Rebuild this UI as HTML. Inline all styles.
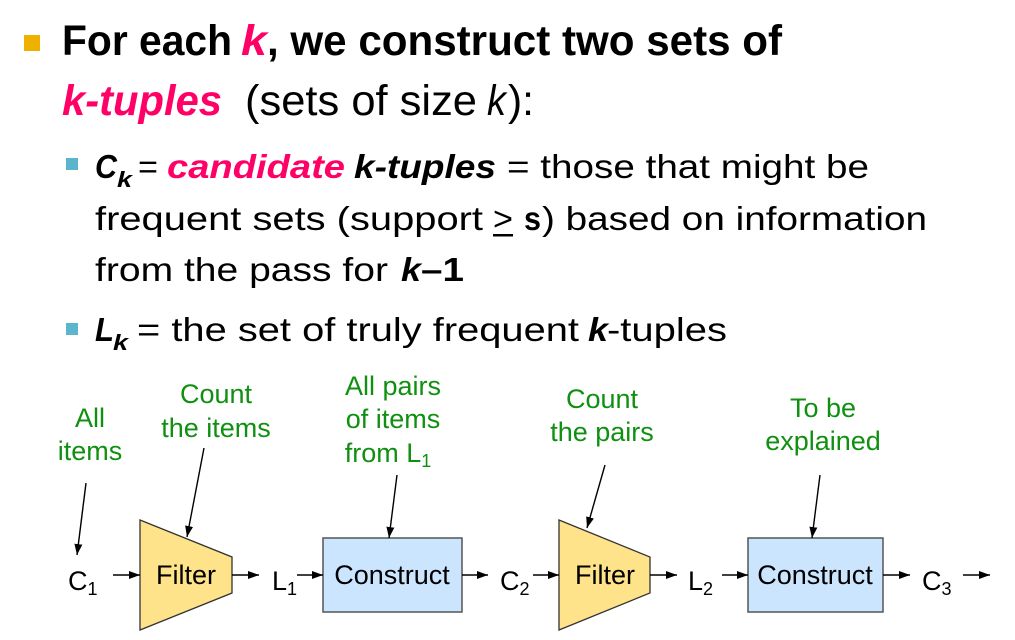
<!DOCTYPE html>
<html>
<head>
<meta charset="utf-8">
<style>
html,body{margin:0;padding:0;background:#fff;}
svg{display:block;}
text{font-family:"Liberation Sans",Arial,sans-serif;}
</style>
</head>
<body>
<svg width="1015" height="640" viewBox="0 0 1015 640" xmlns="http://www.w3.org/2000/svg">
<defs>
<marker id="ah" markerWidth="12" markerHeight="9" refX="11" refY="4" orient="auto" markerUnits="userSpaceOnUse">
<path d="M0,0 L11,4 L0,8 z" fill="#000"/>
</marker>
</defs>

<!-- Bullet 1 -->
<rect x="24" y="35" width="16" height="16" fill="#f0b000"/>
<g font-size="43" font-weight="bold">
<text x="62" y="55" textLength="170" lengthAdjust="spacingAndGlyphs" fill="#000">For each</text>
<text x="241" y="55" textLength="26" lengthAdjust="spacingAndGlyphs" fill="#ff0066" font-style="italic">k</text>
<text x="267" y="55" textLength="515" lengthAdjust="spacingAndGlyphs" fill="#000">, we construct two sets of</text>
<text x="62" y="115" textLength="160" lengthAdjust="spacingAndGlyphs" fill="#ff0066" font-style="italic">k-tuples</text>
</g>
<g font-size="43">
<text x="245" y="115" textLength="232" lengthAdjust="spacingAndGlyphs" fill="#000">(sets of size</text>
<text x="487" y="115" textLength="19" lengthAdjust="spacingAndGlyphs" fill="#000" font-style="italic">k</text>
<text x="508" y="115" textLength="26" lengthAdjust="spacingAndGlyphs" fill="#000">):</text>
</g>

<!-- Sub bullet 1 -->
<rect x="66" y="158" width="12" height="12" fill="#5bb5cc"/>
<g font-size="33">
<text x="95" y="178" textLength="22" lengthAdjust="spacingAndGlyphs" font-weight="bold" font-style="italic">C</text>
<text x="117" y="187" font-size="22" textLength="15" lengthAdjust="spacingAndGlyphs" font-weight="bold" font-style="italic">k</text>
<text x="138" y="178" textLength="20" lengthAdjust="spacingAndGlyphs">=</text>
<text x="167" y="178" textLength="178" lengthAdjust="spacingAndGlyphs" font-weight="bold" font-style="italic" fill="#ff0066">candidate</text>
<text x="354" y="178" textLength="142" lengthAdjust="spacingAndGlyphs" font-weight="bold" font-style="italic">k-tuples</text>
<text x="507" y="178" textLength="362" lengthAdjust="spacingAndGlyphs">= those that might be</text>

<text x="95" y="230" textLength="388" lengthAdjust="spacingAndGlyphs">frequent sets (support</text>
<text x="493" y="230" textLength="20" lengthAdjust="spacingAndGlyphs">&gt;</text>
<rect x="493" y="234" width="20" height="2.5" fill="#000"/>
<text x="524" y="230" textLength="17" lengthAdjust="spacingAndGlyphs" font-weight="bold">s</text>
<text x="542" y="230" textLength="385" lengthAdjust="spacingAndGlyphs">) based on information</text>

<text x="95" y="281" textLength="293" lengthAdjust="spacingAndGlyphs">from the pass for</text>
<text x="401" y="281" textLength="20" lengthAdjust="spacingAndGlyphs" font-weight="bold" font-style="italic">k</text>
<text x="421" y="281" textLength="43" lengthAdjust="spacingAndGlyphs" font-weight="bold">–1</text>
</g>

<!-- Sub bullet 2 -->
<rect x="66" y="323" width="12" height="12" fill="#5bb5cc"/>
<g font-size="33">
<text x="95" y="341" textLength="19" lengthAdjust="spacingAndGlyphs" font-weight="bold" font-style="italic">L</text>
<text x="113" y="350" font-size="22" textLength="15" lengthAdjust="spacingAndGlyphs" font-weight="bold" font-style="italic">k</text>
<text x="137" y="341" textLength="442" lengthAdjust="spacingAndGlyphs">= the set of truly frequent</text>
<text x="588" y="341" textLength="20" lengthAdjust="spacingAndGlyphs" font-weight="bold" font-style="italic">k</text>
<text x="607" y="341" textLength="120" lengthAdjust="spacingAndGlyphs">-tuples</text>
</g>

<!-- Green labels -->
<g font-size="27" fill="#109010" text-anchor="middle">
<text x="90" y="427">All</text>
<text x="90" y="460">items</text>
<text x="216" y="403">Count</text>
<text x="216" y="437">the items</text>
<text x="393" y="395">All pairs</text>
<text x="393" y="428">of items</text>
<text x="388" y="462">from L<tspan font-size="18" dy="5">1</tspan></text>
<text x="602" y="408">Count</text>
<text x="602" y="441">the pairs</text>
<text x="823" y="417">To be</text>
<text x="823" y="450">explained</text>
</g>

<!-- Shapes -->
<polygon points="140,520 232,557 232,593 140,630" fill="#fee38a" stroke="#333" stroke-width="1.3"/>
<polygon points="559,520 650,557 650,593 559,630" fill="#fee38a" stroke="#333" stroke-width="1.3"/>
<rect x="323" y="538" width="139" height="74" fill="#cce5ff" stroke="#555" stroke-width="1.5"/>
<rect x="748" y="538" width="135" height="74" fill="#cce5ff" stroke="#555" stroke-width="1.5"/>

<!-- Diagram text -->
<g font-size="27" fill="#000">
<text x="186" y="584" text-anchor="middle">Filter</text>
<text x="605" y="584" text-anchor="middle">Filter</text>
<text x="392" y="584" text-anchor="middle">Construct</text>
<text x="815" y="584" text-anchor="middle">Construct</text>
<text x="68" y="590">C<tspan font-size="18" dy="5">1</tspan></text>
<text x="272" y="590">L<tspan font-size="18" dy="5">1</tspan></text>
<text x="500" y="590">C<tspan font-size="18" dy="5">2</tspan></text>
<text x="688" y="590">L<tspan font-size="18" dy="5">2</tspan></text>
<text x="922" y="590">C<tspan font-size="18" dy="5">3</tspan></text>
</g>

<!-- Arrows -->
<g stroke="#000" stroke-width="1.4" fill="none" marker-end="url(#ah)">
<line x1="86" y1="483" x2="77" y2="555"/>
<line x1="204" y1="448" x2="187" y2="537"/>
<line x1="397" y1="475" x2="389" y2="538"/>
<line x1="605" y1="465" x2="587" y2="528"/>
<line x1="820" y1="475" x2="812" y2="538"/>
<line x1="113" y1="575" x2="140" y2="575"/>
<line x1="232" y1="575" x2="259" y2="575"/>
<line x1="297" y1="575" x2="323" y2="575"/>
<line x1="462" y1="575" x2="488" y2="575"/>
<line x1="533" y1="575" x2="559" y2="575"/>
<line x1="650" y1="575" x2="677" y2="575"/>
<line x1="722" y1="575" x2="748" y2="575"/>
<line x1="883" y1="575" x2="910" y2="575"/>
<line x1="963" y1="575" x2="990" y2="575"/>
</g>
</svg>
</body>
</html>
